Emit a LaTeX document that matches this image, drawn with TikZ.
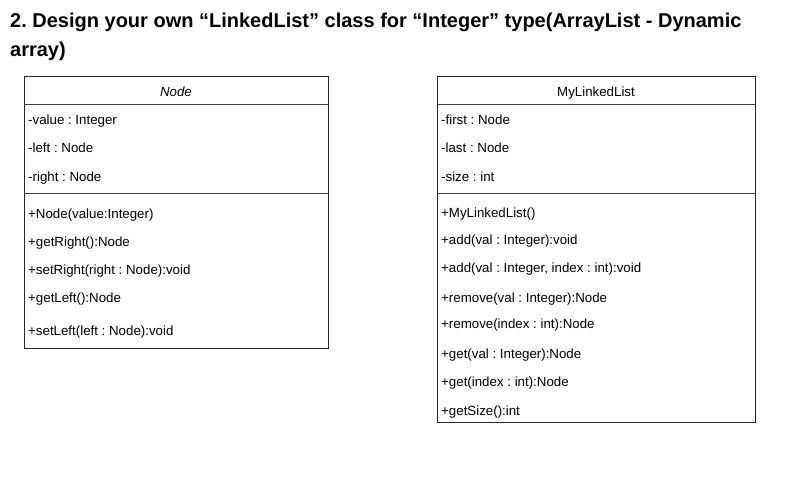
\documentclass[tikz,border=0pt]{standalone}
\usepackage{fontspec}
\setmainfont{Liberation Sans}
\frenchspacing
\begin{document}
\begin{tikzpicture}[x=1pt,y=-1pt,
  box/.style={draw=black!85,line width=0.8pt},
  sep/.style={draw=black!75,line width=0.8pt},
  member/.style={anchor=base west,inner sep=0pt,font=\fontsize{13.3}{15}\selectfont},
  head/.style={anchor=base,inner sep=0pt,font=\fontsize{13.3}{15}\selectfont},
  titletext/.style={anchor=base west,inner sep=0pt,font=\fontsize{20}{24}\selectfont\bfseries}]
\useasboundingbox (0,0) rectangle (785,481);
\node[titletext] (title1) at (10,28) {2. Design your own “LinkedList” class for “Integer” type(ArrayList - Dynamic};
\node[titletext] (title2) at (10,57) {array)};
% Node class
\node[box,minimum width=304pt,minimum height=272pt,anchor=north west,inner sep=0pt] (nodebox) at (24,76) {};
\coordinate (n1l) at (24,104); \coordinate (n1r) at (328,104);
\coordinate (n2l) at (24,193); \coordinate (n2r) at (328,193);
\draw[sep] (n1l) -- (n1r);
\draw[sep] (n2l) -- (n2r);
\node[head,font=\fontsize{13.3}{15}\selectfont\itshape] (nodename) at (176,97) {Node};
\node[member] (na1) at (28,125) {-value : Integer};
\node[member] (na2) at (28,153) {-left : Node};
\node[member] (na3) at (28,182) {-right : Node};
\node[member] (nm1) at (28,219) {+Node(value:Integer)};
\node[member] (nm2) at (28,247) {+getRight():Node};
\node[member] (nm3) at (28,275) {+setRight(right : Node):void};
\node[member] (nm4) at (28,303) {+getLeft():Node};
\node[member] (nm5) at (28,335) {+setLeft(left : Node):void};
% MyLinkedList class
\node[box,minimum width=318pt,minimum height=346pt,anchor=north west,inner sep=0pt] (listbox) at (437,76) {};
\coordinate (l1l) at (437,104); \coordinate (l1r) at (755,104);
\coordinate (l2l) at (437,193); \coordinate (l2r) at (755,193);
\draw[sep] (l1l) -- (l1r);
\draw[sep] (l2l) -- (l2r);
\node[head] (listname) at (596,97) {MyLinkedList};
\node[member] (la1) at (441,125) {-first : Node};
\node[member] (la2) at (441,153) {-last : Node};
\node[member] (la3) at (441,182) {-size : int};
\node[member] (lm1) at (441,218) {+MyLinkedList()};
\node[member] (lm2) at (441,245) {+add(val : Integer):void};
\node[member] (lm3) at (441,273) {+add(val : Integer, index : int):void};
\node[member] (lm4) at (441,302) {+remove(val : Integer):Node};
\node[member] (lm5) at (441,329) {+remove(index : int):Node};
\node[member] (lm6) at (441,358) {+get(val : Integer):Node};
\node[member] (lm7) at (441,386) {+get(index : int):Node};
\node[member] (lm8) at (441,415) {+getSize():int};
\end{tikzpicture}
\end{document}
